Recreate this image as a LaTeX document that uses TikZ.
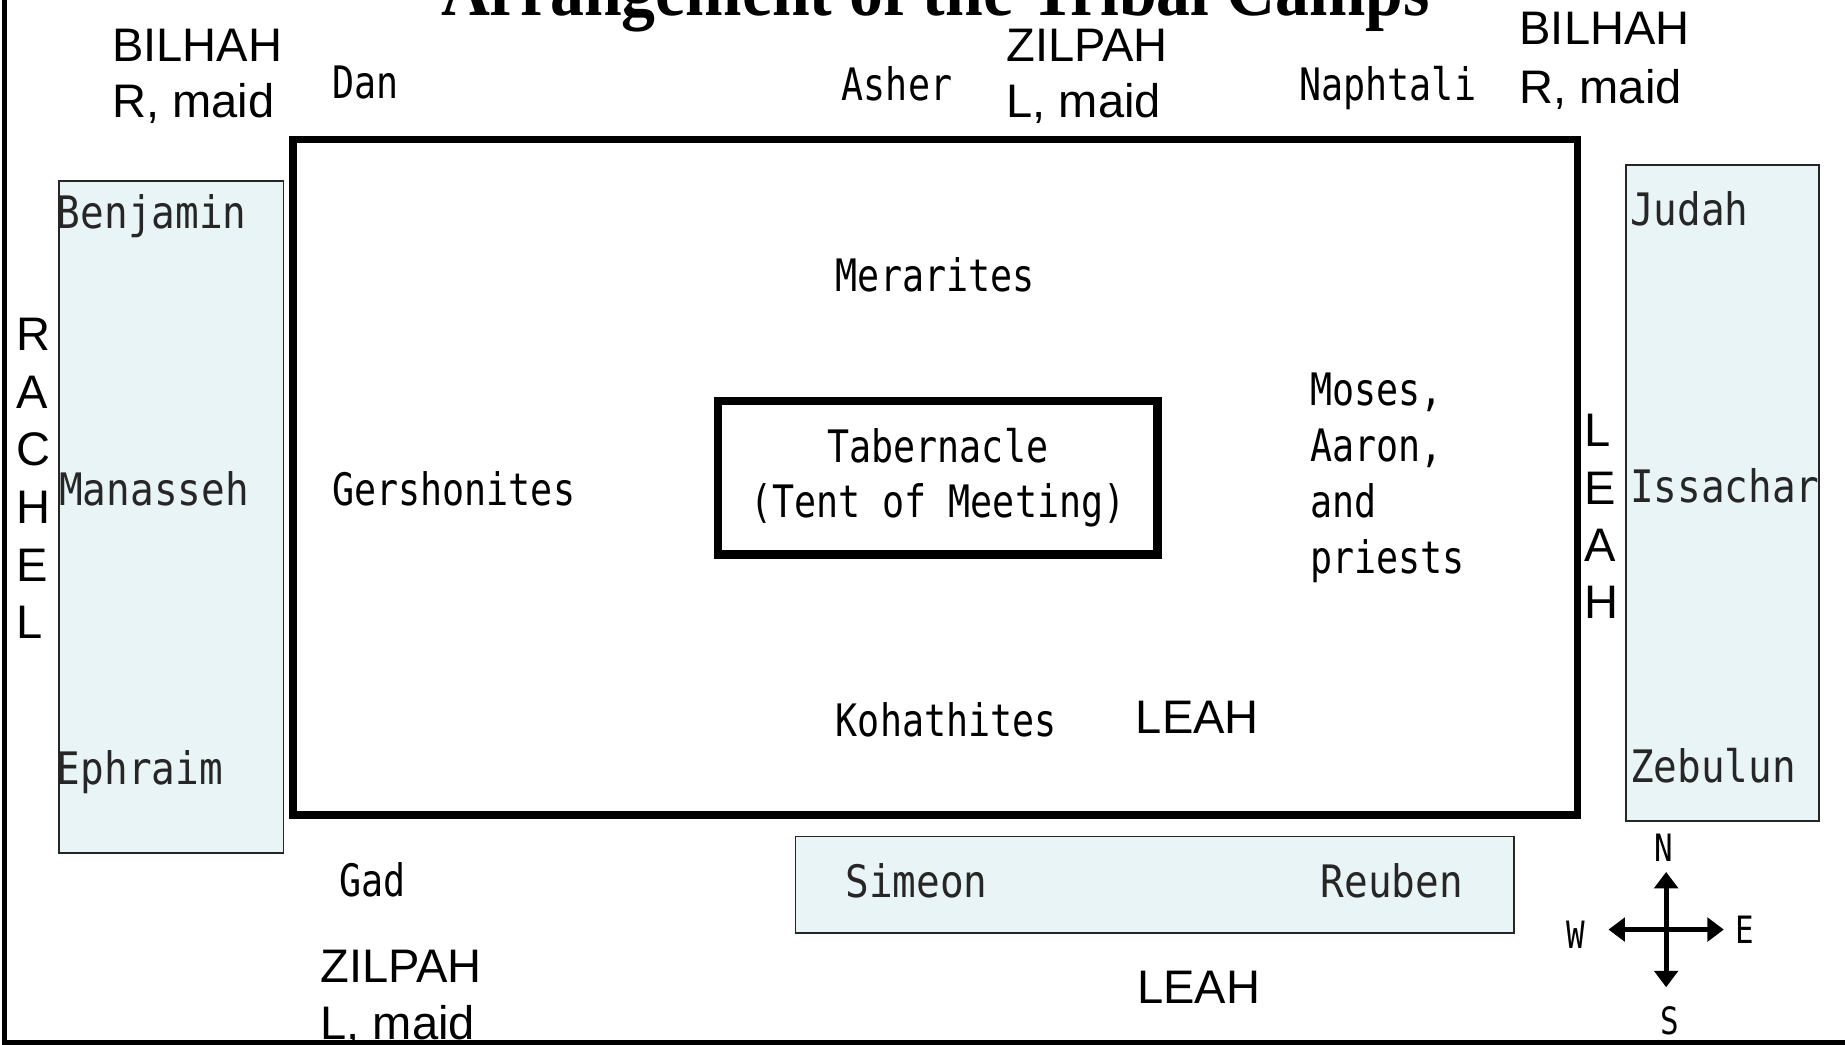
\documentclass[tikz,border=0pt]{standalone}
\usepackage{fontspec}
\usepackage{tikz}
\usetikzlibrary{arrows.meta}
\setmainfont{Liberation Sans}
\newfontfamily\pixfont[FakeStretch=0.82]{DejaVu Sans Mono}
\newfontfamily\boxfont[FakeStretch=0.88]{DejaVu Sans Mono}
\newfontfamily\titlefont[FakeStretch=0.9]{Liberation Serif}
\definecolor{campblue}{RGB}{232,244,246}

\begin{document}
\begin{tikzpicture} [x=0.5pt,y=-0.5pt,every node/.style={inner sep=0pt,anchor=base west},
	mother/.style={align=left,font=\fontsize{20}{24}\selectfont},
	clan/.style={align=left,font=\pixfont\fontsize{19}{23.7}\selectfont},
	tribe/.style={text=black!85,font=\boxfont\fontsize{19}{23}\selectfont},
	campbox/.style={draw=black!85,line width=0.75pt,fill=campblue},
	wind/.style={font=\pixfont\fontsize{16}{19}\selectfont},
	needle/.style={line width=2pt,-{Triangle[length=7pt,width=10pt]}}]
			\useasboundingbox (0,0) rectangle (1568,888);
			\clip (0,0) rectangle (1568,888);
			\node [anchor=base,font=\titlefont\bfseries\fontsize{32}{36}\selectfont] (title) at (795,13) {Arrangement of the Tribal Camps};
			% frame
			\draw [line width=2pt] (4,0) -- (4,886) -- (1568,886);
			% camp of the Levites
			\draw [line width=3.25pt] (249,118.5) rectangle (1340.5,692.5);
			\node [draw,anchor=center,line width=3.5pt,minimum width=186.75pt,minimum height=65.25pt,align=center,
				font=\pixfont\fontsize{19}{23}\selectfont] (tabernacle) at (797,406) {Tabernacle\\(Tent of Meeting)};
			% tribes
			\draw [campbox] (50,154) rectangle (241,725);
			\draw [campbox] (1382,140) rectangle (1546,698);
			\draw [campbox] (676,711) rectangle (1287,793);
			\node [tribe] (benjamin) at (48,194) {Benjamin};
			\node [tribe] (manasseh) at (50,430) {Manasseh};
			\node [tribe] (ephraim) at (48,667) {Ephraim};
			\node [tribe] (judah) at (1385,192) {Judah};
			\node [tribe] (issachar) at (1385,427) {Issachar};
			\node [tribe] (zebulun) at (1385,665) {Zebulun};
			\node [tribe] (simeon) at (718,763) {Simeon};
			\node [tribe] (reuben) at (1122,763) {Reuben};
			\node [clan] (dan) at (282,84) {Dan};
			\node [clan] (asher) at (715,85) {Asher};
			\node [clan] (naphtali) at (1104,85) {Naphtali};
			\node [clan] (gad) at (288,762) {Gad};
			% Levite clans
			\node [clan] (merarites) at (710,248) {Merarites};
			\node [clan] (gershonites) at (282,430) {Gershonites};
			\node [clan] (kohathites) at (710,626) {Kohathites};
			\node [clan] (moses) at (1113,487) {Moses,\\Aaron,\\and\\priests};
			% mothers
			\node [mother] (bilhahW) at (95,100) {BILHAH\\R, maid};
			\node [mother] (zilpahN) at (855,100) {ZILPAH\\L, maid};
			\node [mother,font=\fontsize{20}{25}\selectfont] (bilhahE) at (1291,88) {BILHAH\\R, maid};
			\node [mother] (zilpahS) at (272,883) {ZILPAH\\L, maid};
			\node [mother,font=\fontsize{20}{24.5}\selectfont] (rachel) at (14,543) {R\\A\\C\\H\\E\\L};
			\node [mother,font=\fontsize{20}{24.4}\selectfont] (leahE) at (1346,526) {L\\E\\A\\H};
			\node [mother] (leahIn) at (965,623) {LEAH};
			\node [mother] (leahS) at (966,853) {LEAH};
			% compass
			\coordinate (compass) at (1416,790);
			\coordinate (north) at (1416,741);
			\coordinate (south) at (1416,839);
			\coordinate (west) at (1367,790);
			\coordinate (east) at (1465,790);
			\foreach \tip in {north,south,west,east}
				\draw [needle] (compass) -- (\tip);
			\node [wind,anchor=base] (n) at (1414,732) {N};
			\node [wind,anchor=base] (s) at (1419,879) {S};
			\node [wind,anchor=base] (w) at (1339,806) {W};
			\node [wind,anchor=base] (e) at (1483,802) {E};
		\end{tikzpicture}
\end{document}
